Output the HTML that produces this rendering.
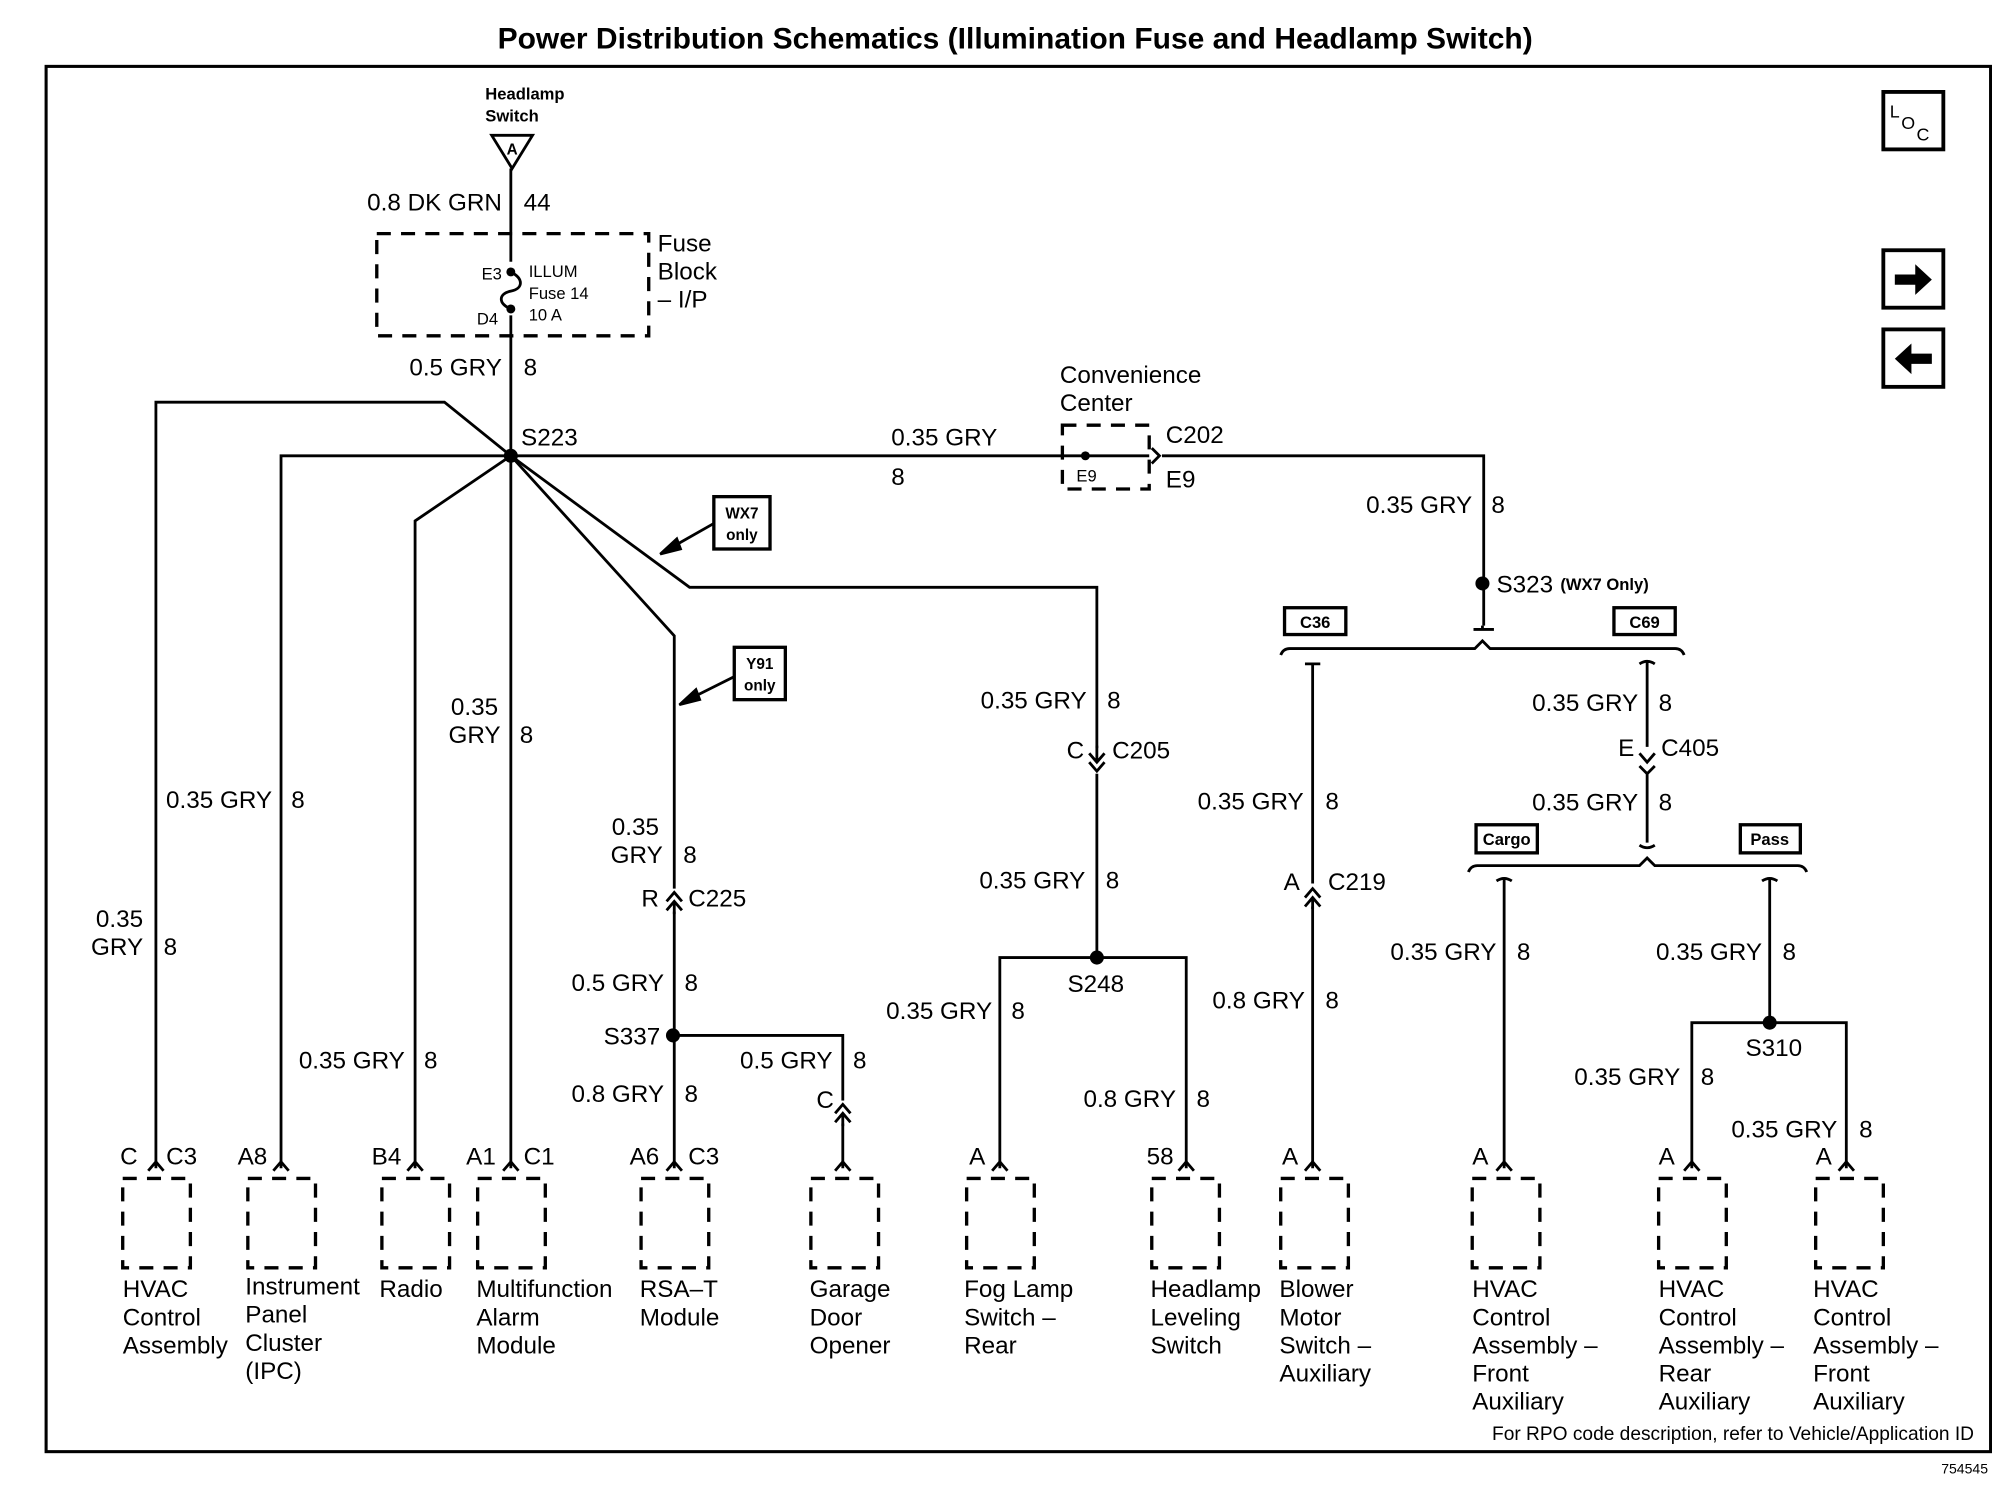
<!DOCTYPE html>
<html><head><meta charset="utf-8"><style>
html,body{margin:0;padding:0;background:#fff}
svg{display:block}
text{font-family:"Liberation Sans",Arial,sans-serif;fill:#000}
.t{font-size:19px}
.s{font-size:13px;font-weight:bold}
.w{stroke:#000;stroke-width:2.2;fill:none}
.d{stroke:#000;stroke-width:2.6;fill:none;stroke-dasharray:11 8}
.b{stroke:#000;stroke-width:2.6;fill:#fff}
</style></head><body>
<svg width="1992" height="1504" viewBox="0 0 1560 1178" xmlns="http://www.w3.org/2000/svg">
<rect width="1560" height="1178" fill="#fff"/>
<text x="795" y="38" text-anchor="middle" style="font-size:23.5px;font-weight:bold">Power Distribution Schematics (Illumination Fuse and Headlamp Switch)</text>
<rect x="36" y="52" width="1523" height="1085" fill="none" stroke="#000" stroke-width="2.4"/>

<!-- headlamp switch -->
<text x="380" y="78" class="s">Headlamp</text>
<text x="380" y="95" class="s">Switch</text>
<path d="M385,106 L417,106 L401,132 Z" class="w"/>
<text x="401" y="121" text-anchor="middle" style="font-size:12px;font-weight:bold">A</text>
<path d="M400,132 V915" class="w"/>
<text x="393" y="165" text-anchor="end" class="t">0.8 DK GRN</text><text x="410" y="165" class="t">44</text>
<rect x="295" y="183" width="213" height="80" class="d"/>
<text x="515" y="197" class="t">Fuse</text><text x="515" y="219" class="t">Block</text><text x="515" y="241" class="t">– I/P</text>
<rect x="393" y="205" width="14" height="42" fill="#fff"/>
<circle cx="400" cy="213" r="3.5"/><circle cx="400" cy="242" r="3.5"/>
<path d="M400,213 C410,218 410,226 400,228 C390,230 390,238 400,242" class="w"/>
<text x="393" y="219" text-anchor="end" style="font-size:13px">E3</text>
<text x="390" y="254" text-anchor="end" style="font-size:13px">D4</text>
<text x="414" y="217" style="font-size:13px">ILLUM</text>
<text x="414" y="234" style="font-size:13px">Fuse 14</text>
<text x="414" y="251" style="font-size:13px">10 A</text>
<text x="393" y="294" text-anchor="end" class="t">0.5 GRY</text><text x="410" y="294" class="t">8</text>

<!-- S223 -->
<circle cx="400" cy="357" r="5.5"/>
<text x="408" y="349" class="t">S223</text>
<path d="M400,357 L348,315 H122 V915" class="w"/>
<path d="M220,915 V357 H832" class="w"/>
<path d="M400,357 L325,408 V915" class="w"/>
<path d="M400,357 L528,498 V915" class="w"/>
<path d="M400,357 L540,460 H859 V750" class="w"/>
<text x="112" y="726" text-anchor="end" class="t">0.35</text><text x="112" y="748" text-anchor="end" class="t">GRY</text><text x="128" y="748" class="t">8</text>
<text x="213" y="633" text-anchor="end" class="t">0.35 GRY</text><text x="228" y="633" class="t">8</text>
<text x="317" y="837" text-anchor="end" class="t">0.35 GRY</text><text x="332" y="837" class="t">8</text>
<text x="390" y="560" text-anchor="end" class="t">0.35</text><text x="392" y="582" text-anchor="end" class="t">GRY</text><text x="407" y="582" class="t">8</text>

<!-- WX7 / Y91 boxes -->
<rect x="559" y="389" width="44" height="41" class="b"/>
<text x="581" y="406" text-anchor="middle" style="font-size:12px;font-weight:bold">WX7</text>
<text x="581" y="423" text-anchor="middle" style="font-size:12px;font-weight:bold">only</text>
<path d="M559,410 L522,431" class="w"/><path d="M517,434 L530,422 L533,430 Z" fill="#000" stroke="#000" stroke-width="2"/>
<rect x="575" y="507" width="40" height="41" class="b"/>
<text x="595" y="524" text-anchor="middle" style="font-size:12px;font-weight:bold">Y91</text>
<text x="595" y="541" text-anchor="middle" style="font-size:12px;font-weight:bold">only</text>
<path d="M575,530 L537,549" class="w"/><path d="M532,552 L545,540 L548,548 Z" fill="#000" stroke="#000" stroke-width="2"/>

<!-- RSA -->
<text x="516" y="654" text-anchor="end" class="t">0.35</text><text x="519" y="676" text-anchor="end" class="t">GRY</text><text x="535" y="676" class="t">8</text>
<rect x="522" y="696" width="12" height="18" fill="#fff"/>
<path d="M522,706 L528,699 L534,706 M522,713 L528,706 L534,713 M528,706 V716" class="w"/>
<text x="516" y="710" text-anchor="end" class="t">R</text><text x="539" y="710" class="t">C225</text>
<text x="520" y="776" text-anchor="end" class="t">0.5 GRY</text><text x="536" y="776" class="t">8</text>
<circle cx="527" cy="811" r="5.5"/>
<text x="517" y="818" text-anchor="end" class="t">S337</text>
<path d="M527,811 H660 V915" class="w"/>
<text x="652" y="837" text-anchor="end" class="t">0.5 GRY</text><text x="668" y="837" class="t">8</text>
<rect x="654" y="862" width="12" height="18" fill="#fff"/>
<path d="M654,872 L660,865 L666,872 M654,879 L660,872 L666,879 M660,872 V882" class="w"/>
<text x="653" y="868" text-anchor="end" class="t">C</text>
<text x="520" y="863" text-anchor="end" class="t">0.8 GRY</text><text x="536" y="863" class="t">8</text>

<!-- convenience center -->
<text x="830" y="300" class="t">Convenience</text><text x="830" y="322" class="t">Center</text>
<rect x="832" y="333" width="68" height="50" class="d"/>
<circle cx="850" cy="357" r="3.5"/>
<path d="M832,357 H900 M902,351 L908,357 L902,363 M910,357 H1162 V490" class="w"/>
<text x="843" y="377" style="font-size:13px">E9</text>
<text x="913" y="347" class="t">C202</text><text x="913" y="382" class="t">E9</text>
<text x="698" y="349" class="t">0.35 GRY</text><text x="698" y="380" class="t">8</text>
<text x="1153" y="402" text-anchor="end" class="t">0.35 GRY</text><text x="1168" y="402" class="t">8</text>
<circle cx="1161" cy="457" r="5.5"/>
<text x="1172" y="464" class="t">S323</text><text x="1222" y="462" style="font-size:13px;font-weight:bold">(WX7 Only)</text>
<path d="M1154,493 H1170 M1161,490 V493" class="w"/>
<path d="M1003,513 Q1005,508 1010,508 H1155 L1161,502 L1167,508 H1312 Q1317,508 1319,513" class="w"/>
<rect x="1006" y="476" width="48" height="21" class="b"/><text x="1030" y="492" text-anchor="middle" style="font-size:13px;font-weight:bold">C36</text>
<rect x="1264" y="476" width="48" height="21" class="b"/><text x="1288" y="492" text-anchor="middle" style="font-size:13px;font-weight:bold">C69</text>

<!-- fog lamp branch -->
<text x="851" y="555" text-anchor="end" class="t">0.35 GRY</text><text x="867" y="555" class="t">8</text>
<rect x="853" y="586" width="12" height="20" fill="#fff"/>
<path d="M853,590 L859,597 L865,590 M853,597 L859,604 L865,597 M859,584 V597" class="w"/>
<text x="849" y="594" text-anchor="end" class="t">C</text><text x="871" y="594" class="t">C205</text>
<text x="850" y="696" text-anchor="end" class="t">0.35 GRY</text><text x="866" y="696" class="t">8</text>
<circle cx="859" cy="750" r="5.5"/>
<path d="M783,915 V750 H929 V915" class="w"/>
<text x="836" y="777" class="t">S248</text>
<text x="777" y="798" text-anchor="end" class="t">0.35 GRY</text><text x="792" y="798" class="t">8</text>
<text x="1022" y="790" text-anchor="end" class="t">0.8 GRY</text><text x="1038" y="790" class="t">8</text>
<text x="921" y="867" text-anchor="end" class="t">0.8 GRY</text><text x="937" y="867" class="t">8</text>

<!-- blower branch -->
<path d="M1022,520 H1034 M1028,520 V915" class="w"/>
<text x="1021" y="634" text-anchor="end" class="t">0.35 GRY</text><text x="1038" y="634" class="t">8</text>
<rect x="1022" y="692" width="12" height="18" fill="#fff"/>
<path d="M1022,703 L1028,696 L1034,703 M1022,710 L1028,703 L1034,710 M1028,703 V712" class="w"/>
<text x="1018" y="697" text-anchor="end" class="t">A</text><text x="1040" y="697" class="t">C219</text>

<!-- C69 branch -->
<path d="M1284,520 Q1290,516 1296,520 M1290,518 V585 M1284,590 L1290,597 L1296,590 M1284,600 L1290,606 L1296,600 M1290,606 V660 M1284,662 Q1290,666 1296,662" class="w"/>
<text x="1283" y="557" text-anchor="end" class="t">0.35 GRY</text><text x="1299" y="557" class="t">8</text>
<text x="1280" y="592" text-anchor="end" class="t">E</text><text x="1301" y="592" class="t">C405</text>
<text x="1283" y="635" text-anchor="end" class="t">0.35 GRY</text><text x="1299" y="635" class="t">8</text>
<path d="M1150,683 Q1152,678 1157,678 H1284 L1290,672 L1296,678 H1408 Q1413,678 1415,683" class="w"/>
<rect x="1156" y="646" width="48" height="22" class="b"/><text x="1180" y="662" text-anchor="middle" style="font-size:13px;font-weight:bold">Cargo</text>
<rect x="1363" y="646" width="47" height="22" class="b"/><text x="1386" y="662" text-anchor="middle" style="font-size:13px;font-weight:bold">Pass</text>
<path d="M1172,690 Q1178,686 1184,690 M1178,688 V915" class="w"/>
<path d="M1380,690 Q1386,686 1392,690 M1386,688 V801" class="w"/>
<text x="1172" y="752" text-anchor="end" class="t">0.35 GRY</text><text x="1188" y="752" class="t">8</text>
<text x="1380" y="752" text-anchor="end" class="t">0.35 GRY</text><text x="1396" y="752" class="t">8</text>
<circle cx="1386" cy="801" r="5.5"/>
<path d="M1325,915 V801 H1446 V915" class="w"/>
<text x="1367" y="827" class="t">S310</text>
<text x="1316" y="850" text-anchor="end" class="t">0.35 GRY</text><text x="1332" y="850" class="t">8</text>
<text x="1439" y="891" text-anchor="end" class="t">0.35 GRY</text><text x="1456" y="891" class="t">8</text>

<!-- bottom connector chevrons -->
<g class="w">
<path d="M116,917 L122,910 L128,917"/><path d="M214,917 L220,910 L226,917"/><path d="M319,917 L325,910 L331,917"/>
<path d="M394,917 L400,910 L406,917"/><path d="M522,917 L528,910 L534,917"/><path d="M654,917 L660,910 L666,917"/>
<path d="M777,917 L783,910 L789,917"/><path d="M923,917 L929,910 L935,917"/><path d="M1022,917 L1028,910 L1034,917"/>
<path d="M1172,917 L1178,910 L1184,917"/><path d="M1319,917 L1325,910 L1331,917"/><path d="M1440,917 L1446,910 L1452,917"/>
</g>
<g class="t">
<text x="94" y="912">C</text><text x="130" y="912">C3</text>
<text x="186" y="912">A8</text><text x="291" y="912">B4</text>
<text x="365" y="912">A1</text><text x="410" y="912">C1</text>
<text x="493" y="912">A6</text><text x="539" y="912">C3</text>
<text x="759" y="912">A</text><text x="898" y="912">58</text>
<text x="1004" y="912">A</text><text x="1153" y="912">A</text>
<text x="1299" y="912">A</text><text x="1422" y="912">A</text>
</g>

<!-- component boxes -->
<g class="d">
<rect x="96" y="923" width="53" height="70"/><rect x="194" y="923" width="53" height="70"/>
<rect x="299" y="923" width="53" height="70"/><rect x="374" y="923" width="53" height="70"/>
<rect x="502" y="923" width="53" height="70"/><rect x="635" y="923" width="53" height="70"/>
<rect x="757" y="923" width="53" height="70"/><rect x="902" y="923" width="53" height="70"/>
<rect x="1003" y="923" width="53" height="70"/><rect x="1153" y="923" width="53" height="70"/>
<rect x="1299" y="923" width="53" height="70"/><rect x="1422" y="923" width="53" height="70"/>
</g>
<g class="t">
<text x="96" y="1016">HVAC</text><text x="96" y="1038">Control</text><text x="96" y="1060">Assembly</text>
<text x="192" y="1014">Instrument</text><text x="192" y="1036">Panel</text><text x="192" y="1058">Cluster</text><text x="192" y="1080">(IPC)</text>
<text x="297" y="1016">Radio</text>
<text x="373" y="1016">Multifunction</text><text x="373" y="1038">Alarm</text><text x="373" y="1060">Module</text>
<text x="501" y="1016">RSA–T</text><text x="501" y="1038">Module</text>
<text x="634" y="1016">Garage</text><text x="634" y="1038">Door</text><text x="634" y="1060">Opener</text>
<text x="755" y="1016">Fog Lamp</text><text x="755" y="1038">Switch –</text><text x="755" y="1060">Rear</text>
<text x="901" y="1016">Headlamp</text><text x="901" y="1038">Leveling</text><text x="901" y="1060">Switch</text>
<text x="1002" y="1016">Blower</text><text x="1002" y="1038">Motor</text><text x="1002" y="1060">Switch –</text><text x="1002" y="1082">Auxiliary</text>
<text x="1153" y="1016">HVAC</text><text x="1153" y="1038">Control</text><text x="1153" y="1060">Assembly –</text><text x="1153" y="1082">Front</text><text x="1153" y="1104">Auxiliary</text>
<text x="1299" y="1016">HVAC</text><text x="1299" y="1038">Control</text><text x="1299" y="1060">Assembly –</text><text x="1299" y="1082">Rear</text><text x="1299" y="1104">Auxiliary</text>
<text x="1420" y="1016">HVAC</text><text x="1420" y="1038">Control</text><text x="1420" y="1060">Assembly –</text><text x="1420" y="1082">Front</text><text x="1420" y="1104">Auxiliary</text>
</g>
<text x="1546" y="1128" text-anchor="end" style="font-size:15px">For RPO code description, refer to Vehicle/Application ID</text>
<text x="1557" y="1154" text-anchor="end" style="font-size:11px">754545</text>

<!-- right icons -->
<rect x="1475" y="72" width="47" height="45" fill="none" stroke="#000" stroke-width="3"/>
<text x="1480" y="92" style="font-size:14px">L</text><text x="1489" y="101" style="font-size:14px">O</text><text x="1501" y="110" style="font-size:14px">C</text>
<rect x="1475" y="196" width="47" height="45" fill="none" stroke="#000" stroke-width="3"/>
<path d="M1484,215 H1500 V207 L1513,219 L1500,231 V223 H1484 Z" fill="#000"/>
<rect x="1475" y="258" width="47" height="45" fill="none" stroke="#000" stroke-width="3"/>
<path d="M1513,277 H1497 V269 L1484,281 L1497,293 V285 H1513 Z" fill="#000"/>
</svg>
</body></html>
